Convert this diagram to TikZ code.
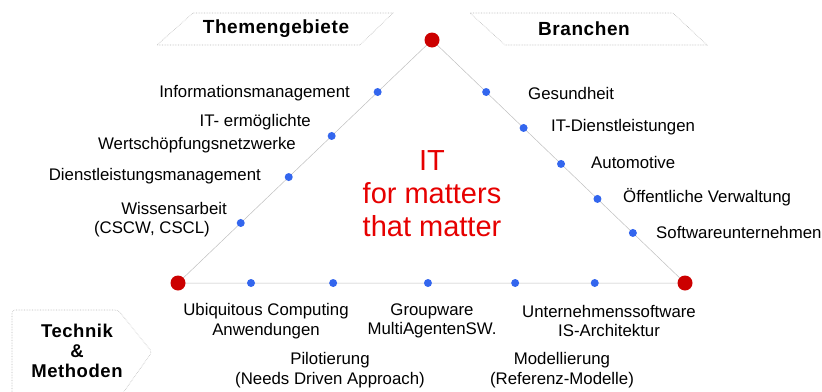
\documentclass[tikz,border=0pt]{standalone}
\usepackage{fontspec}
\setmainfont{Liberation Sans}
\newfontfamily\hdfont[LetterSpace=3]{Liberation Sans}
\usetikzlibrary{calc}
\definecolor{dotred}{HTML}{CC0000}
\definecolor{dotblue}{HTML}{3366EE}
\definecolor{txtred}{HTML}{E60000}
\begin{document}
\begin{tikzpicture}[x=1pt,y=-1pt,
  vertex/.style={circle, fill=dotred, minimum size=15pt, inner sep=0pt},
  bdot/.style={circle, fill=dotblue, minimum size=8pt, inner sep=0pt},
  lbl/.style={inner sep=0pt, font=\fontsize{16.8}{20}\selectfont},
  clbl/.style={inner sep=0pt, align=center, font=\fontsize{16.8}{19.5}\selectfont},
  edgeline/.style={draw=gray!50, line width=0.5pt},
  hdr/.style={draw=gray!55, densely dotted, line width=0.6pt, fill=white},
  hdtext/.style={inner sep=0pt, align=center, font=\hdfont\bfseries\fontsize{19}{20}\selectfont}]
\useasboundingbox (0,0) rectangle (822,391);

% headers
\draw[hdr] (193,13) -- (393,13) -- (360,45) -- (157,45) -- cycle;
\node[hdtext] (hthemen) at (276,29) {Themengebiete};
\draw[hdr] (470,13) -- (673,13) -- (707,45) -- (505,45) -- cycle;
\node[hdtext] (hbranchen) at (584,29) {Branchen};
\draw[hdr, rounded corners=3pt] (12,400) -- (12,310) -- (118,310) -- (152,352) -- (118,400);
\node[hdtext, font=\hdfont\bfseries\fontsize{18.5}{20}\selectfont] (htechnik) at (77,351) {Technik\\\&\\Methoden};

% triangle
\coordinate (T) at (432,40);
\coordinate (L) at (178,283);
\coordinate (R) at (685,283);
\draw[edgeline] (T) -- (L) -- (R) -- cycle;

% left edge dots
\node[bdot] (l1) at ($(T)!0.214!(L)$) {};
\node[bdot] (l2) at ($(T)!0.395!(L)$) {};
\node[bdot] (l3) at ($(T)!0.564!(L)$) {};
\node[bdot] (l4) at ($(T)!0.753!(L)$) {};
% right edge dots
\node[bdot] (r1) at ($(T)!0.214!(R)$) {};
\node[bdot] (r2) at ($(T)!0.362!(R)$) {};
\node[bdot] (r3) at ($(T)!0.510!(R)$) {};
\node[bdot] (r4) at ($(T)!0.654!(R)$) {};
\node[bdot] (r5) at ($(T)!0.794!(R)$) {};
% bottom dots
\node[bdot] (b1) at ($(L)!0.144!(R)$) {};
\node[bdot] (b2) at ($(L)!0.306!(R)$) {};
\node[bdot] (b3) at ($(L)!0.493!(R)$) {};
\node[bdot] (b4) at ($(L)!0.665!(R)$) {};
\node[bdot] (b5) at ($(L)!0.822!(R)$) {};

% vertices
\node[vertex] (vT) at (T) {};
\node[vertex] (vL) at (L) {};
\node[vertex] (vR) at (R) {};

% left labels
\node[lbl, anchor=east] (tl1) at (350,93) {Informationsmanagement};
\node[lbl, anchor=east] (tl2a) at (311,122) {IT- ermöglichte};
\node[lbl, anchor=east] (tl2b) at (296,145) {Wertschöpfungsnetzwerke};
\node[lbl, anchor=east] (tl3) at (261,176) {Dienstleistungsmanagement};
\node[lbl, anchor=east] (tl4a) at (227,208) {Wissensarbeit};
\node[lbl, anchor=east] (tl4b) at (210,229) {(CSCW, CSCL)};

% right labels
\node[lbl, anchor=west] (tr1) at (528,93) {Gesundheit};
\node[lbl, anchor=west] (tr2) at (551,127) {IT-Dienstleistungen};
\node[lbl, anchor=west] (tr3) at (591,162) {Automotive};
\node[lbl, anchor=west] (tr4) at (623,197) {Öffentliche Verwaltung};
\node[lbl, anchor=west] (tr5) at (656,232) {Softwareunternehmen};

% bottom labels
\node[clbl] (tb1) at (266,321) {Ubiquitous Computing\\Anwendungen};
\node[clbl] (tb2) at (432,321) {Groupware\\MultiAgentenSW.};
\node[clbl] (tb3) at (609,321) {Unternehmenssoftware\\IS-Architektur};
\node[clbl] (tb4) at (330,370) {Pilotierung\\(Needs Driven Approach)};
\node[clbl] (tb5) at (562,370) {Modellierung\\(Referenz-Modelle)};

% centre text
\node[inner sep=0pt, align=center, text=txtred, font=\fontsize{29}{33}\selectfont] (ctr) at (432,194) {IT\\for matters\\that matter};
\end{tikzpicture}
\end{document}
